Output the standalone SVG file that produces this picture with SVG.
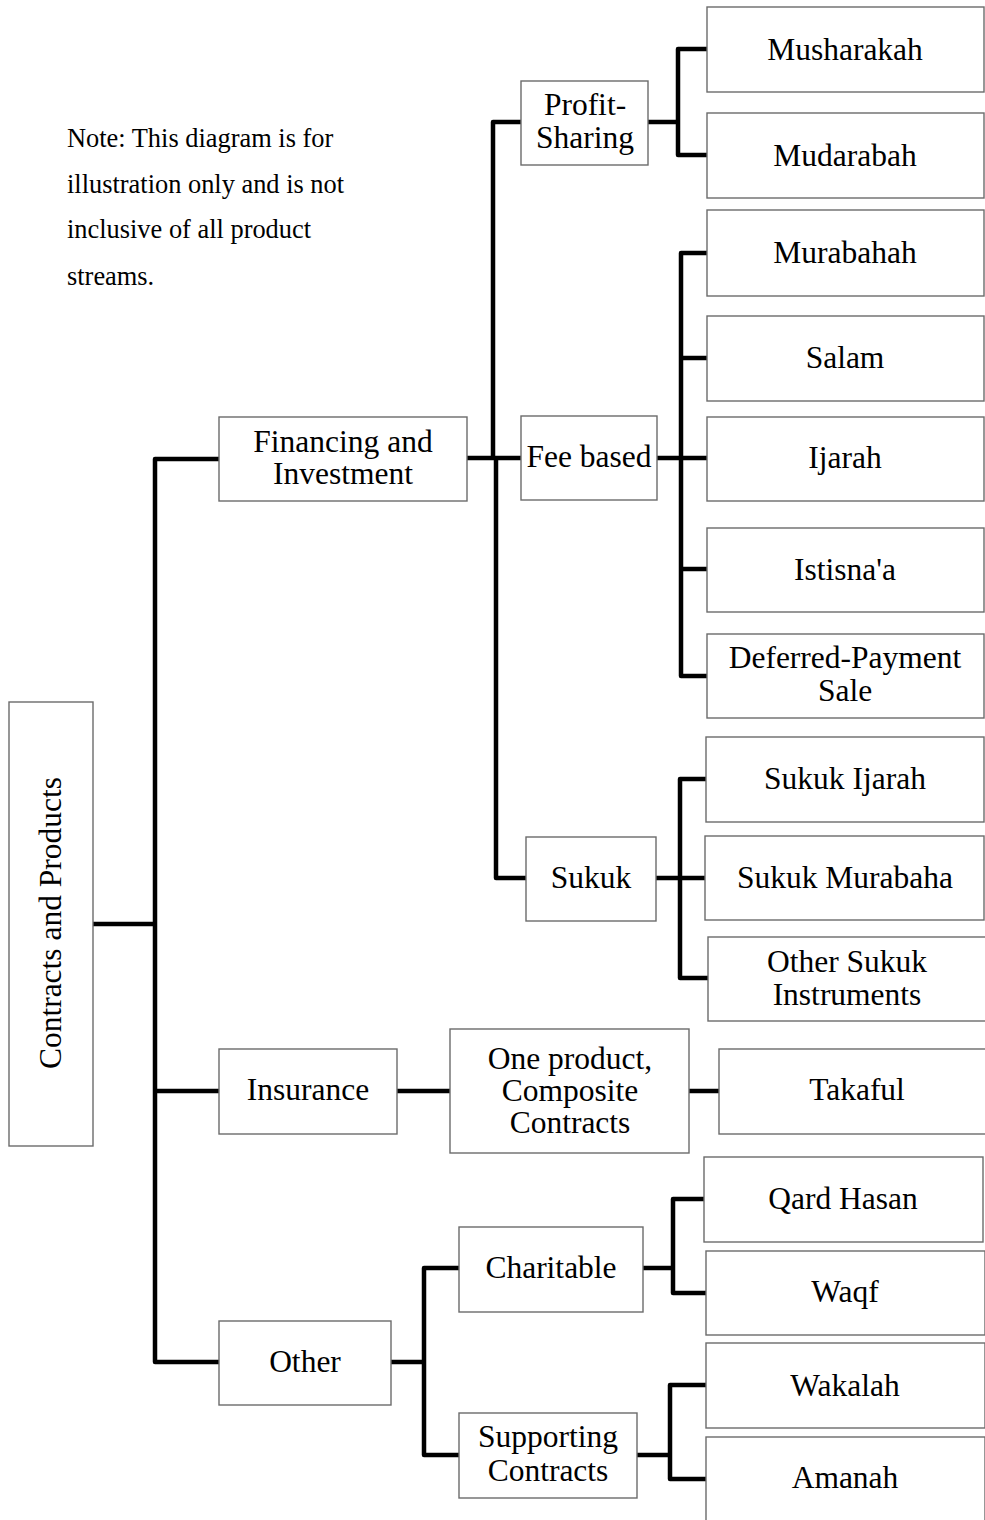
<svg xmlns="http://www.w3.org/2000/svg" width="985" height="1520" viewBox="0 0 985 1520">
  <style>
    .box { fill: #ffffff; stroke: #6b6b6b; stroke-width: 1.4; }
    .lbl { font-family: "Liberation Serif", "Times New Roman", serif; font-size: 31.5px; fill: #000; text-anchor: middle; }
    .note { font-family: "Liberation Serif", "Times New Roman", serif; font-size: 26.4px; fill: #000; }
    .conn { fill: none; stroke: #000; stroke-width: 4.5; stroke-linejoin: round; stroke-linecap: butt; }
  </style>
  <rect x="0" y="0" width="985" height="1520" fill="#ffffff"/>

  <!-- connectors -->
  <g id="connectors" class="conn">
    <!-- root trunk -->
    <path d="M219 459 H155 V1362 H219"/>
    <path d="M93 924 H155"/>
    <path d="M155 1091 H219"/>
    <!-- financing fork -->
    <path d="M521 122 H493 V460"/>
    <path d="M496 456 V878 H526"/>
    <path d="M467 458 H521"/>
    <!-- profit-sharing fork -->
    <path d="M707 49 H678 V155 H707"/>
    <path d="M648 122 H678"/>
    <!-- fee based fork -->
    <path d="M707 253 H681 V676 H707"/>
    <path d="M681 358 H707"/>
    <path d="M657 458 H707"/>
    <path d="M681 569 H707"/>
    <!-- sukuk fork -->
    <path d="M706 779 H680 V978 H708"/>
    <path d="M656 878 H705"/>
    <!-- insurance chain -->
    <path d="M397 1091 H450"/>
    <path d="M689 1091 H719"/>
    <!-- other fork -->
    <path d="M459 1268 H424 V1455 H459"/>
    <path d="M391 1362 H424"/>
    <!-- charitable fork -->
    <path d="M704 1199 H673 V1293 H706"/>
    <path d="M643 1268 H673"/>
    <!-- supporting fork -->
    <path d="M706 1385 H670 V1479 H706"/>
    <path d="M637 1455 H670"/>
  </g>

  <!-- note -->
  <g id="note" class="note">
    <text x="67" y="147">Note: This diagram is for</text>
    <text x="67" y="193">illustration only and is not</text>
    <text x="67" y="238">inclusive of all product</text>
    <text x="67" y="285">streams.</text>
  </g>

  <!-- root -->
  <g id="root">
    <rect class="box" x="9" y="702" width="84" height="444"/>
    <text class="lbl" transform="translate(61 923) rotate(-90)">Contracts and Products</text>
  </g>

  <!-- level 1 -->
  <g id="financing">
    <rect class="box" x="219" y="417" width="248" height="84"/>
    <text class="lbl" x="343" y="452">Financing and</text>
    <text class="lbl" x="343" y="484">Investment</text>
  </g>
  <g id="insurance">
    <rect class="box" x="219" y="1049" width="178" height="85"/>
    <text class="lbl" x="308" y="1100">Insurance</text>
  </g>
  <g id="other">
    <rect class="box" x="219" y="1321" width="172" height="84"/>
    <text class="lbl" x="305" y="1372">Other</text>
  </g>

  <!-- level 2 -->
  <g id="profit-sharing">
    <rect class="box" x="521" y="81" width="127" height="84"/>
    <text class="lbl" x="585" y="115">Profit-</text>
    <text class="lbl" x="585" y="148">Sharing</text>
  </g>
  <g id="fee-based">
    <rect class="box" x="521" y="416" width="136" height="84"/>
    <text class="lbl" x="589" y="467">Fee based</text>
  </g>
  <g id="sukuk">
    <rect class="box" x="526" y="837" width="130" height="84"/>
    <text class="lbl" x="591" y="888">Sukuk</text>
  </g>
  <g id="one-product">
    <rect class="box" x="450" y="1029" width="239" height="124"/>
    <text class="lbl" x="570" y="1069">One product,</text>
    <text class="lbl" x="570" y="1101">Composite</text>
    <text class="lbl" x="570" y="1133">Contracts</text>
  </g>
  <g id="charitable">
    <rect class="box" x="459" y="1227" width="184" height="85"/>
    <text class="lbl" x="551" y="1278">Charitable</text>
  </g>
  <g id="supporting">
    <rect class="box" x="459" y="1413" width="178" height="85"/>
    <text class="lbl" x="548" y="1447">Supporting</text>
    <text class="lbl" x="548" y="1481">Contracts</text>
  </g>

  <!-- level 3 -->
  <g id="musharakah">
    <rect class="box" x="707" y="7" width="277" height="85"/>
    <text class="lbl" x="845" y="60">Musharakah</text>
  </g>
  <g id="mudarabah">
    <rect class="box" x="707" y="113" width="277" height="85"/>
    <text class="lbl" x="845" y="166">Mudarabah</text>
  </g>
  <g id="murabahah">
    <rect class="box" x="707" y="210" width="277" height="86"/>
    <text class="lbl" x="845" y="263">Murabahah</text>
  </g>
  <g id="salam">
    <rect class="box" x="707" y="316" width="277" height="85"/>
    <text class="lbl" x="845" y="368">Salam</text>
  </g>
  <g id="ijarah">
    <rect class="box" x="707" y="417" width="277" height="84"/>
    <text class="lbl" x="845" y="468">Ijarah</text>
  </g>
  <g id="istisnaa">
    <rect class="box" x="707" y="528" width="277" height="84"/>
    <text class="lbl" x="845" y="580">Istisna'a</text>
  </g>
  <g id="deferred-payment">
    <rect class="box" x="707" y="634" width="277" height="84"/>
    <text class="lbl" x="845" y="668">Deferred-Payment</text>
    <text class="lbl" x="845" y="701">Sale</text>
  </g>
  <g id="sukuk-ijarah">
    <rect class="box" x="706" y="737" width="278" height="85"/>
    <text class="lbl" x="845" y="789">Sukuk Ijarah</text>
  </g>
  <g id="sukuk-murabaha">
    <rect class="box" x="705" y="836" width="279" height="84"/>
    <text class="lbl" x="845" y="888">Sukuk Murabaha</text>
  </g>
  <g id="other-sukuk">
    <rect class="box" x="708" y="937" width="278" height="84"/>
    <text class="lbl" x="847" y="972">Other Sukuk</text>
    <text class="lbl" x="847" y="1005">Instruments</text>
  </g>
  <g id="takaful">
    <rect class="box" x="719" y="1049" width="276" height="85"/>
    <text class="lbl" x="857" y="1100">Takaful</text>
  </g>
  <g id="qard-hasan">
    <rect class="box" x="704" y="1157" width="279" height="85"/>
    <text class="lbl" x="843" y="1209">Qard Hasan</text>
  </g>
  <g id="waqf">
    <rect class="box" x="706" y="1251" width="279" height="84"/>
    <text class="lbl" x="845" y="1302">Waqf</text>
  </g>
  <g id="wakalah">
    <rect class="box" x="706" y="1343" width="279" height="85"/>
    <text class="lbl" x="845" y="1396">Wakalah</text>
  </g>
  <g id="amanah">
    <rect class="box" x="706" y="1437" width="279" height="90"/>
    <text class="lbl" x="845" y="1488">Amanah</text>
  </g>
</svg>
